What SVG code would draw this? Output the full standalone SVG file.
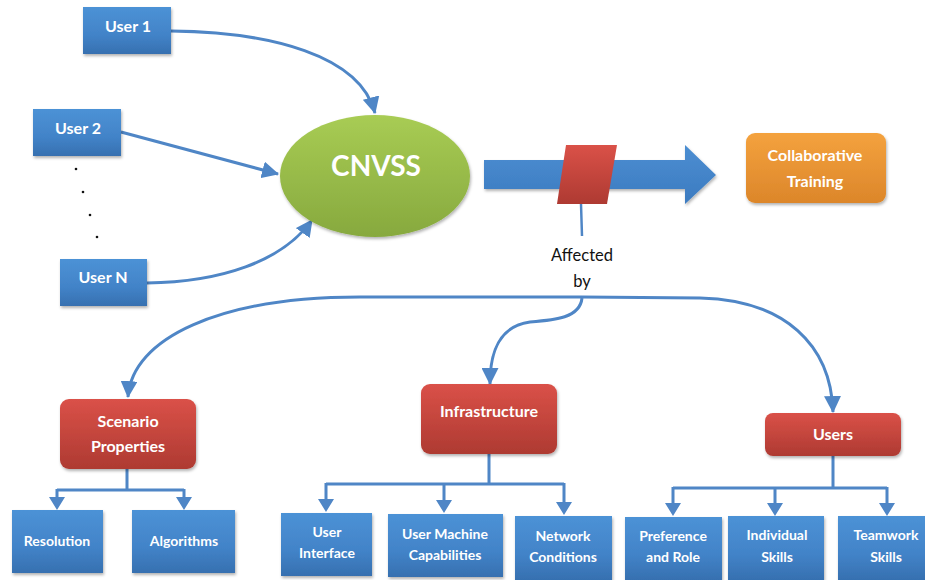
<svg xmlns="http://www.w3.org/2000/svg" width="925" height="580" viewBox="0 0 925 580">
<defs>
  <linearGradient id="gBlue" x1="0" y1="0" x2="0" y2="1">
    <stop offset="0" stop-color="#4C92D6"/>
    <stop offset="0.6" stop-color="#4283C8"/>
    <stop offset="1" stop-color="#3670B0"/>
  </linearGradient>
  <linearGradient id="gRed" x1="0" y1="0" x2="0" y2="1">
    <stop offset="0" stop-color="#DA5148"/>
    <stop offset="1" stop-color="#AE3A32"/>
  </linearGradient>
  <linearGradient id="gGreen" x1="0" y1="0" x2="0" y2="1">
    <stop offset="0" stop-color="#A8CC54"/>
    <stop offset="1" stop-color="#87A93E"/>
  </linearGradient>
  <linearGradient id="gOrange" x1="0" y1="0" x2="0" y2="1">
    <stop offset="0" stop-color="#F4A23E"/>
    <stop offset="1" stop-color="#DC862A"/>
  </linearGradient>
  <linearGradient id="gArrow" x1="0" y1="0" x2="0" y2="1">
    <stop offset="0" stop-color="#4C8ED2"/>
    <stop offset="1" stop-color="#3C7BC0"/>
  </linearGradient>
  <filter id="sh" x="-10%" y="-10%" width="125%" height="130%">
    <feDropShadow dx="1" dy="2" stdDeviation="1.5" flood-color="#000" flood-opacity="0.3"/>
  </filter>
  <marker id="ah" viewBox="0 0 16 16" refX="15" refY="8" markerWidth="17" markerHeight="17" markerUnits="userSpaceOnUse" orient="auto">
    <path d="M0,0 L16,8 L0,16 Z" fill="#4F86C6"/>
  </marker>
</defs>
<style>
  .lbl { font-family: Lato, "Open Sans", "Liberation Sans", sans-serif; font-weight: bold; fill: #FFFFFF; text-anchor: middle; }
  .con { fill: none; stroke: #4F86C6; stroke-width: 3; }
  .tri { fill: #4F86C6; }
  .blue { fill: url(#gBlue); filter: url(#sh); }
  .red { fill: url(#gRed); filter: url(#sh); }
  .s16 { font-size: 16px; }
  .s14 { font-size: 14px; }
</style>

<g id="connectors">
  <path class="con" d="M171,31 C270,32 360,55 375,113" marker-end="url(#ah)"/>
  <path class="con" d="M121,132 L278,174" marker-end="url(#ah)"/>
  <path class="con" d="M147,283 C220,282 282,262 312,220" marker-end="url(#ah)"/>
  <line x1="581" y1="204" x2="582" y2="236" stroke="#4F86C6" stroke-width="2.5"/>
  <path class="con" d="M582,297 L360,297 C220,297 132,338 128,397" marker-end="url(#ah)"/>
  <path class="con" d="M582,297 L700,298 C785,300 831,345 833,412" marker-end="url(#ah)"/>
  <path class="con" d="M582,298 C580,318 555,320 530,322 C500,326 490,350 490,384" marker-end="url(#ah)"/>
  <path class="con" d="M127,469 L127,490 M57,490 L184,490 M57,489 L57,500 M184,489 L184,500"/>
  <path class="tri" d="M49,497 L65,497 L57,510 Z M176,497 L192,497 L184,510 Z"/>
  <path class="con" d="M489,454 L489,484 M326,484 L564,484 M326,483 L326,500 M444,483 L444,501 M564,483 L564,503"/>
  <path class="tri" d="M318,499 L334,499 L326,512 Z M436,500 L452,500 L444,513 Z M556,502 L572,502 L564,515 Z"/>
  <path class="con" d="M833,456 L833,488 M673,488 L887,488 M673,487 L673,503 M775,487 L775,503 M887,487 L887,503"/>
  <path class="tri" d="M665,503 L681,503 L673,516 Z M767,503 L783,503 L775,516 Z M879,503 L895,503 L887,516 Z"/>
</g>

<g id="dots" fill="#111">
  <circle cx="76" cy="169" r="1.3"/>
  <circle cx="83" cy="192" r="1.3"/>
  <circle cx="90" cy="215" r="1.3"/>
  <circle cx="97" cy="237" r="1.3"/>
</g>

<g id="user1"><rect class="blue" x="83" y="7" width="88" height="47"/><text class="lbl s16" x="128" y="32">User 1</text></g>
<g id="user2"><rect class="blue" x="33" y="109" width="88" height="47"/><text class="lbl s16" x="78" y="134">User 2</text></g>
<g id="userN"><rect class="blue" x="60" y="259" width="87" height="47"/><text class="lbl s16" x="103" y="283">User N</text></g>

<g id="cnvss">
  <ellipse cx="375" cy="176" rx="95" ry="61" fill="url(#gGreen)" filter="url(#sh)"/>
  <text class="lbl" x="376" y="176" font-size="28">CNVSS</text>
</g>

<g id="bigArrow">
  <path d="M484,160 L685,160 L685,145 L716,175 L685,204 L685,189 L484,189 Z" fill="url(#gArrow)" filter="url(#sh)"/>
</g>
<g id="barrier">
  <path d="M566,145 L617,145 L607,204 L557,204 Z" fill="url(#gRed)"/>
</g>

<g id="collab">
  <rect x="746" y="133" width="140" height="70" rx="9" fill="url(#gOrange)" filter="url(#sh)"/>
  <text class="lbl s16" x="815" y="161">Collaborative</text>
  <text class="lbl s16" x="815" y="187">Training</text>
</g>

<g id="affected" font-family="Lato, 'Open Sans', 'Liberation Sans', sans-serif" font-size="16.5" fill="#111" text-anchor="middle">
  <text x="582" y="261">Affected</text>
  <text x="582" y="287">by</text>
</g>

<g id="scenario"><rect class="red" x="60" y="399" width="136" height="70" rx="9"/><text class="lbl s16" x="128" y="427">Scenario</text><text class="lbl s16" x="128" y="452">Properties</text></g>
<g id="infra"><rect class="red" x="421" y="384" width="136" height="70" rx="9"/><text class="lbl s16" x="489" y="417">Infrastructure</text></g>
<g id="users"><rect class="red" x="765" y="413" width="136" height="43" rx="8"/><text class="lbl s16" x="833" y="440">Users</text></g>

<g id="resolution"><rect class="blue" x="12" y="510" width="91" height="63"/><text class="lbl s14" x="57" y="546">Resolution</text></g>
<g id="algorithms"><rect class="blue" x="132" y="510" width="103" height="63"/><text class="lbl s14" x="184" y="546">Algorithms</text></g>

<g id="ui"><rect class="blue" x="281" y="513" width="91" height="63"/><text class="lbl s14" x="327" y="537">User</text><text class="lbl s14" x="327" y="558">Interface</text></g>
<g id="umc"><rect class="blue" x="388" y="514" width="115" height="63"/><text class="lbl s14" x="445" y="539">User Machine</text><text class="lbl s14" x="445" y="560">Capabilities</text></g>
<g id="net"><rect class="blue" x="515" y="516" width="97" height="64"/><text class="lbl s14" x="563" y="541">Network</text><text class="lbl s14" x="563" y="562">Conditions</text></g>

<g id="pref"><rect class="blue" x="625" y="517" width="97" height="63"/><text class="lbl s14" x="673" y="541">Preference</text><text class="lbl s14" x="673" y="562">and Role</text></g>
<g id="indiv"><rect class="blue" x="728" y="516" width="96" height="64"/><text class="lbl s14" x="777" y="540">Individual</text><text class="lbl s14" x="777" y="562">Skills</text></g>
<g id="team"><rect class="blue" x="838" y="516" width="90" height="64"/><text class="lbl s14" x="886" y="540">Teamwork</text><text class="lbl s14" x="886" y="562">Skills</text></g>
</svg>
